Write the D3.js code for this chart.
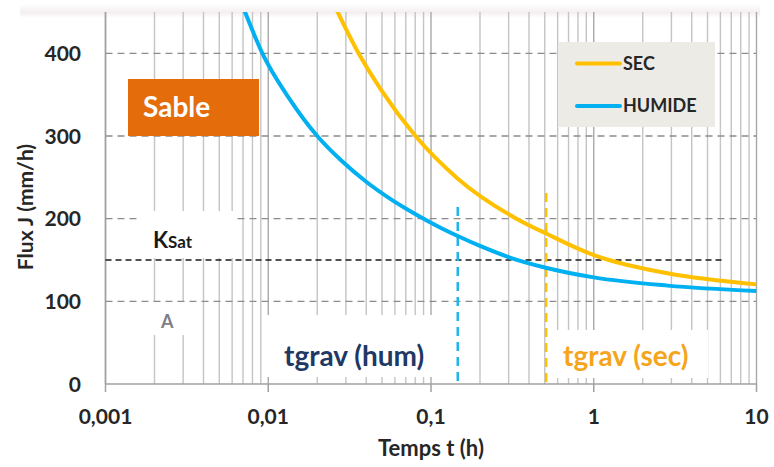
<!DOCTYPE html>
<html>
<head>
<meta charset="utf-8">
<script src="https://cdn.jsdelivr.net/npm/d3@7"></script>
<style>
  body { margin: 0; background: #fff; }
  text { font-family: Lato, "Open Sans", sans-serif; }
</style>
</head>
<body>
<div id="chart"></div>
<script>
// data
var tSec = [0.022, 0.0267, 0.0359, 0.0489, 0.0803, 0.145, 0.335, 0.51, 1, 1.24, 2.84, 10]
var fluxSec = [485, 450, 400, 357, 300, 249, 200, 182, 156, 150, 134, 120.5]

var tHum = [0.006, 0.0072, 0.0092, 0.0135, 0.02, 0.0282, 0.0398, 0.0562, 0.0794, 0.112, 0.146, 0.2, 0.305, 0.5, 1, 2.84, 10]
var fluxHum = [491, 450, 400, 345, 300, 270, 245, 224, 206, 190, 179, 167, 153, 141, 129, 119, 112.5]

var yTicks = [0, 100, 200, 300, 400]
var xTicks = [0.001, 0.01, 0.1, 1, 10]
var xTickLabels = ["0,001", "0,01", "0,1", "1", "10"]

var ksat = 150
var ksatEnd = 6.2
var tgravT = [0.146, 0.51]       // hum, sec
var tgravTop = [214, 231]

var W = 774, H = 467
var svg = d3.select("#chart").append("svg").attr("width", W).attr("height", H)

var x = d3.scaleLog().domain([0.001, 10]).range([105.5, 756.5])
var y = d3.scaleLinear().domain([0, 450]).range([384, 12])

// faint band at the top of the screenshot
var grad = svg.append("defs").append("linearGradient").attr("id", "topband")
  .attr("x1", 0).attr("y1", 0).attr("x2", 0).attr("y2", 1)
grad.append("stop").attr("offset", "0%").attr("stop-color", "#fff")
grad.append("stop").attr("offset", "60%").attr("stop-color", "#f4eef0")
grad.append("stop").attr("offset", "100%").attr("stop-color", "#fff")
svg.append("rect").attr("x", 20).attr("y", 4).attr("width", 740).attr("height", 14)
  .attr("fill", "url(#topband)")

svg.append("clipPath").attr("id", "plot").append("rect")
  .attr("x", x(0.001)).attr("y", y(450)).attr("width", x(10) - x(0.001)).attr("height", y(0) - y(450))

// vertical grid lines at every log step
var gridT = []
for (var k = -3; k < 1; k++) {
  for (var m = 1; m < 10; m++) gridT.push(m * Math.pow(10, k))
}
gridT.push(10)

svg.append("g").selectAll("line").data(gridT).enter().append("line")
  .attr("x1", function(d) { return x(d) }).attr("x2", function(d) { return x(d) })
  .attr("y1", y(450)).attr("y2", y(0))
  .attr("stroke", function(d) { return xTicks.indexOf(d) >= 0 ? "#a8a8a8" : "#c4c4c4" })
  .attr("stroke-width", 1.4)

// horizontal dashed grid
svg.append("g").selectAll("line").data(yTicks.slice(1)).enter().append("line")
  .attr("x1", x(0.001)).attr("x2", x(10))
  .attr("y1", function(d) { return y(d) }).attr("y2", function(d) { return y(d) })
  .attr("stroke", "#8c8c8c").attr("stroke-width", 1.4).attr("stroke-dasharray", "7,5")

// white backgrounds of the labels
var boxes = [[137, 211, 98, 47], [122, 302, 78, 33], [262, 315, 173, 62], [548, 330, 160, 48]]
svg.append("g").selectAll("rect").data(boxes).enter().append("rect")
  .attr("x", function(d) { return d[0] }).attr("y", function(d) { return d[1] })
  .attr("width", function(d) { return d[2] }).attr("height", function(d) { return d[3] })
  .attr("fill", "#fff")

// axes
svg.append("line").attr("x1", x(0.001)).attr("x2", x(0.001)).attr("y1", y(450)).attr("y2", y(0))
  .attr("stroke", "#a0a0a0").attr("stroke-width", 1.5)
svg.append("line").attr("x1", x(0.001)).attr("x2", x(10)).attr("y1", y(0)).attr("y2", y(0))
  .attr("stroke", "#a0a0a0").attr("stroke-width", 1.5)
svg.append("g").selectAll("line").data(xTicks).enter().append("line")
  .attr("x1", function(d) { return x(d) }).attr("x2", function(d) { return x(d) })
  .attr("y1", y(0)).attr("y2", y(0) + 8)
  .attr("stroke", "#a0a0a0").attr("stroke-width", 1.5)

svg.append("g").selectAll("text").data(yTicks).enter().append("text")
  .attr("x", 81).attr("y", function(d) { return y(d) }).attr("dy", "0.36em")
  .attr("text-anchor", "end").style("font-size", "21px").style("font-weight", "bold")
  .attr("fill", "#262626").text(function(d) { return d })

svg.append("g").selectAll("text").data(xTicks).enter().append("text")
  .attr("x", function(d) { return x(d) }).attr("y", 424)
  .attr("text-anchor", "middle").style("font-size", "21px").style("font-weight", "bold")
  .attr("fill", "#262626").text(function(d, i) { return xTickLabels[i] })

svg.append("text").attr("x", 431).attr("y", 456).attr("text-anchor", "middle")
  .style("font-size", "22px").style("font-weight", "bold").attr("fill", "#262626")
  .text("Temps t (h)")
svg.append("text").attr("transform", "translate(33,207) rotate(-90)").attr("text-anchor", "middle")
  .style("font-size", "21px").style("font-weight", "bold").attr("fill", "#262626")
  .text("Flux J (mm/h)")

// Ksat
svg.append("line").attr("x1", x(0.001)).attr("x2", x(ksatEnd)).attr("y1", y(ksat)).attr("y2", y(ksat))
  .attr("stroke", "#1a1a1a").attr("stroke-width", 1.6).attr("stroke-dasharray", "6,4")

// tgrav markers
var tgravColor = ["#1fb5e8", "#ffc000"]
svg.append("g").selectAll("line").data(tgravT).enter().append("line")
  .attr("x1", function(d) { return x(d) }).attr("x2", function(d) { return x(d) })
  .attr("y1", function(d, i) { return y(tgravTop[i]) }).attr("y2", y(0))
  .attr("stroke", function(d, i) { return tgravColor[i] })
  .attr("stroke-width", 2.5).attr("stroke-dasharray", "9,6")

// curves
var line = d3.line().curve(d3.curveMonotoneX)
  .x(function(d) { return x(d[0]) }).y(function(d) { return y(d[1]) })

var g = svg.append("g").attr("clip-path", "url(#plot)")
g.append("path").datum(d3.zip(tHum, fluxHum)).attr("d", line)
  .attr("fill", "none").attr("stroke", "#00b0f0").attr("stroke-width", 4)
g.append("path").datum(d3.zip(tSec, fluxSec)).attr("d", line)
  .attr("fill", "none").attr("stroke", "#ffc000").attr("stroke-width", 4)

// Sable box
svg.append("rect").attr("x", 128).attr("y", 79).attr("width", 131).attr("height", 57).attr("fill", "#e46c0a")
svg.append("text").attr("x", 143).attr("y", 117).style("font-size", "28px").style("font-weight", "bold")
  .attr("fill", "#fff").text("Sable")

// legend
svg.append("rect").attr("x", 559).attr("y", 42).attr("width", 156).attr("height", 85).attr("fill", "#ecebe5")
var legNames = ["SEC", "HUMIDE"]
var legColors = ["#ffc000", "#00b0f0"]
var leg = svg.append("g").selectAll("g").data(legNames).enter().append("g")
  .attr("transform", function(d, i) { return "translate(577," + (63.5 + i * 42.5) + ")" })
leg.append("line").attr("x1", 0).attr("x2", 43)
  .attr("stroke", function(d, i) { return legColors[i] }).attr("stroke-width", 4).attr("stroke-linecap", "round")
leg.append("text").attr("x", 46).attr("dy", "0.36em").style("font-size", "18px").style("font-weight", "bold")
  .attr("fill", "#262626").text(function(d) { return d })

// annotations
var ks = svg.append("text").attr("x", 153).attr("y", 248).attr("fill", "#1a1a1a").style("font-weight", "bold")
ks.append("tspan").style("font-size", "22px").text("K")
ks.append("tspan").style("font-size", "17px").text("Sat")

svg.append("text").attr("x", 161).attr("y", 328).style("font-size", "18px").style("font-weight", "bold")
  .attr("fill", "#7d7f86").text("A")

svg.append("text").attr("x", 284).attr("y", 366).style("font-size", "28px").style("font-weight", "bold")
  .attr("fill", "#1f3864").text("tgrav (hum)")
svg.append("text").attr("x", 563).attr("y", 366).style("font-size", "28px").style("font-weight", "bold")
  .attr("fill", "#f5a51c").text("tgrav (sec)")
</script>
</body>
</html>
